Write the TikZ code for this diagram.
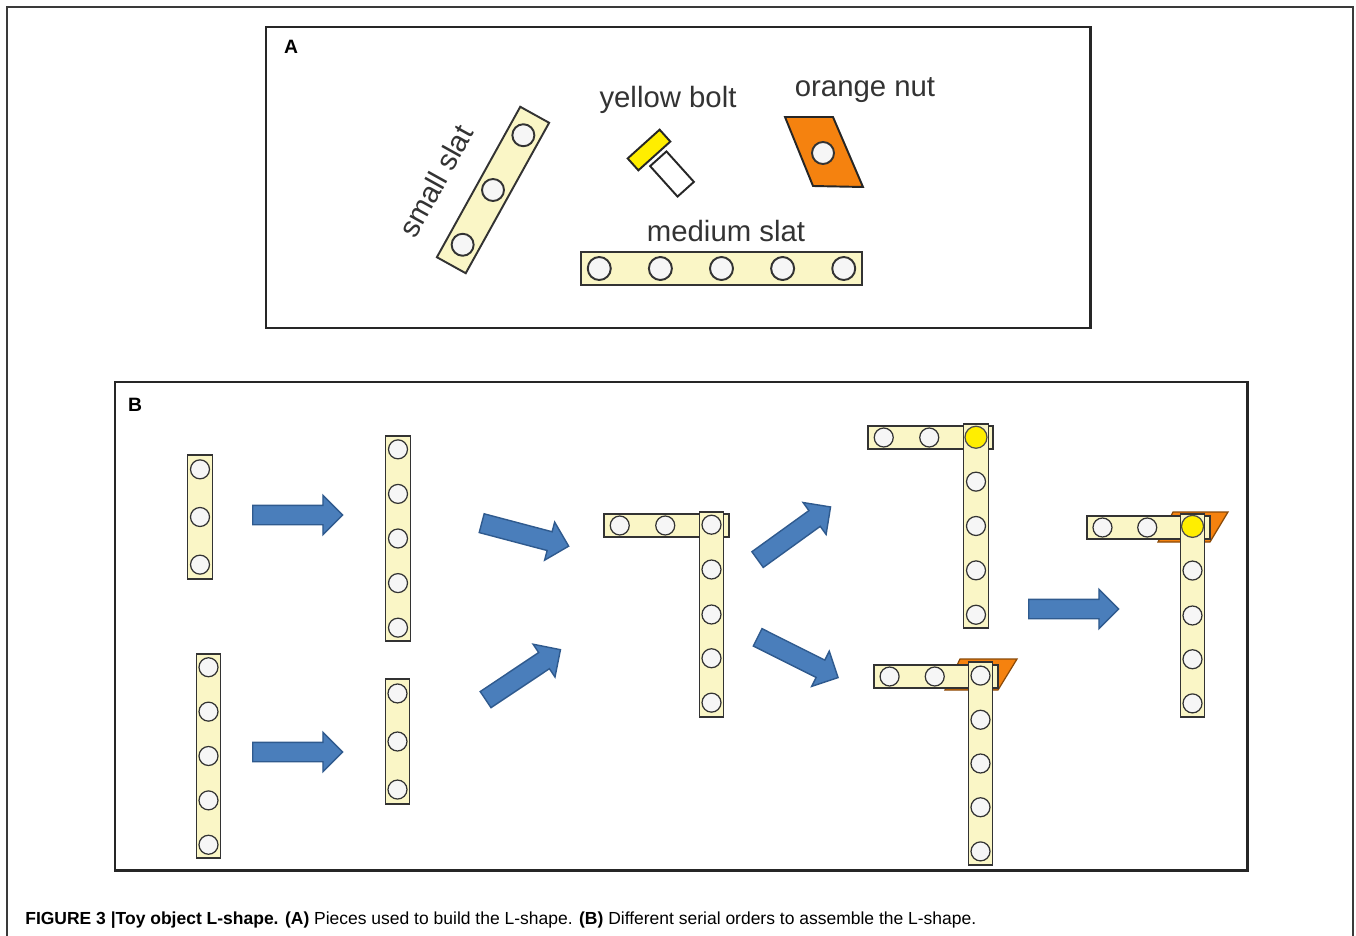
\documentclass[tikz,border=0pt]{standalone}
\usepackage{fontspec}
\setmainfont{Liberation Sans}
\usetikzlibrary{shapes.arrows, calc}
\definecolor{slatfill}{HTML}{FAF6C6}
\definecolor{holefill}{HTML}{F6F6F6}
\definecolor{boltyellow}{HTML}{FFEE00}
\definecolor{nutorange}{HTML}{F5820F}
\definecolor{nutedge}{HTML}{8A4A08}
\definecolor{arrowblue}{HTML}{4A7EBB}
\definecolor{arrowedge}{HTML}{2F5A8E}
\definecolor{framegray}{HTML}{3A3A3A}

\begin{document}
\begin{tikzpicture}[x=0.02cm, y=-0.02cm,
    panel/.style={draw=black!85, line width=1.7pt},
    plabel/.style={font=\fontsize{11}{13}\selectfont\bfseries},
    piece/.style={font=\fontsize{16.7}{20}\selectfont, text=black!80},
    slat/.style={draw=black!80, fill=slatfill, line width=0.8pt, inner sep=0pt},
    bigslat/.style={slat, line width=1.1pt, minimum width=#1*0.02cm, minimum height=0.66cm},
    vslat/.style={slat, minimum width=0.49cm, minimum height=#1*0.02cm},
    hslat/.style={slat, minimum height=0.46cm, minimum width=#1*0.02cm},
    hole/.style={draw=black!80, fill=holefill, line width=0.7pt},
    bighole/.style={hole, line width=1.1pt},
    bolt/.style={draw=black!70, fill=boltyellow, line width=0.7pt},
    nut/.style={draw=nutedge, fill=nutorange, line width=0.7pt},
    blockarrow/.style={single arrow, draw=arrowedge, fill=arrowblue, line width=0.8pt, anchor=tail,
                       inner sep=0.18cm, minimum height=1.8cm, single arrow head extend=0.2cm},
]
    \useasboundingbox (0,0) rectangle (1356,936);
    \draw[framegray, line width=1.1pt] (7,936) -- (7,7) -- (1353,7) -- (1353,936);

    % === panel A: the pieces ===
    \draw[panel] (266,27) rectangle (1090,328);
    \node[plabel] (labA) at (291,47) {A};

    \node[bigslat=172, rotate=61] (smallA) at (493,190) {};
    \foreach \t in {0.14,0.5,0.86}
        \draw[bighole] ($(smallA.west)!\t!(smallA.east)$) circle (0.22cm);
    \node[piece, rotate=61] (smallTxt) at (436,181) {small slat};

    \node[draw=black!85, fill=white, line width=1.1pt, inner sep=0pt,
          minimum width=0.82cm, minimum height=0.44cm, rotate=-48] (shaftA) at (672,174) {};
    \node[draw=black!85, fill=boltyellow, line width=1.1pt, inner sep=0pt,
          minimum width=0.86cm, minimum height=0.32cm, rotate=42] (headA) at (649,150) {};
    \node[piece] (boltTxt) at (668,100) {yellow bolt};

    \draw[nut, draw=black!85, line width=1.1pt] (785,117) -- (833,117) -- (863,187) -- (813,186) -- cycle;
    \draw[bighole] (823,153) circle (0.22cm);
    \node[piece] (nutTxt) at (865,90) {orange nut};

    \node[bigslat=281] (mediumA) at (721.5,268.5) {};
    \foreach \t in {0.068,0.284,0.5,0.716,0.932}
        \draw[bighole] ($(mediumA.west)!\t!(mediumA.east)$) circle (0.23cm);
    \node[piece] (mediumTxt) at (726,231) {medium slat};

    % === panel B: assembly orders ===
    \draw[panel] (115,382) rectangle (1247,870);
    \node[plabel] (labB) at (135,405) {B};

    % loose slats
    \node[vslat=124] (s1) at (200,517) {};
    \foreach \t in {0.12,0.5,0.88}
        \draw[hole] ($(s1.north)!\t!(s1.south)$) circle (0.19cm);
    \node[vslat=204] (m1) at (208.5,756) {};
    \foreach \t in {0.068,0.284,0.5,0.716,0.932}
        \draw[hole] ($(m1.north)!\t!(m1.south)$) circle (0.19cm);
    \node[vslat=205] (m2) at (398,538.5) {};
    \foreach \t in {0.068,0.284,0.5,0.716,0.932}
        \draw[hole] ($(m2.north)!\t!(m2.south)$) circle (0.19cm);
    \node[vslat=125] (s2) at (397.5,741.5) {};
    \foreach \t in {0.12,0.5,0.88}
        \draw[hole] ($(s2.north)!\t!(s2.south)$) circle (0.19cm);

    % L-shape, no fastener
    \node[hslat=125] (h3) at (666.5,525.5) {};
    \foreach \t in {0.13,0.49,0.86}
        \draw[hole] ($(h3.west)!\t!(h3.east)$) circle (0.19cm);
    \node[vslat=205] (v3) at (711.5,614.5) {};
    \foreach \t in {0.065,0.282,0.5,0.712,0.927}
        \draw[hole] ($(v3.north)!\t!(v3.south)$) circle (0.19cm);

    % L-shape with bolt
    \node[hslat=125] (h4) at (930.5,437.5) {};
    \foreach \t in {0.13,0.49,0.86}
        \draw[hole] ($(h4.west)!\t!(h4.east)$) circle (0.19cm);
    \node[vslat=204] (v4) at (976,526) {};
    \foreach \t in {0.068,0.284,0.5,0.716,0.932}
        \draw[hole] ($(v4.north)!\t!(v4.south)$) circle (0.19cm);
    \draw[bolt] ($(v4.north)!0.068!(v4.south)$) circle (0.22cm);

    % L-shape with nut
    \draw[nut] (960,659) -- (1017,659) -- (998,690) -- (945,690) -- cycle;
    \node[hslat=124] (h5) at (936,676.5) {};
    \foreach \t in {0.13,0.49,0.86}
        \draw[hole] ($(h5.west)!\t!(h5.east)$) circle (0.19cm);
    \node[vslat=203] (v5) at (980.5,763.5) {};
    \foreach \t in {0.07,0.286,0.5,0.714,0.93}
        \draw[hole] ($(v5.north)!\t!(v5.south)$) circle (0.19cm);

    % finished L-shape
    \draw[nut] (1173,512) -- (1228,512) -- (1210,542) -- (1158,542) -- cycle;
    \node[hslat=123] (h6) at (1148.5,527.5) {};
    \foreach \t in {0.13,0.49,0.86}
        \draw[hole] ($(h6.west)!\t!(h6.east)$) circle (0.19cm);
    \node[vslat=203] (v6) at (1192.5,615.5) {};
    \foreach \t in {0.064,0.28,0.5,0.714,0.93}
        \draw[hole] ($(v6.north)!\t!(v6.south)$) circle (0.19cm);
    \draw[bolt] ($(v6.north)!0.064!(v6.south)$) circle (0.22cm);

    % arrows, placed by their tails
    \node[blockarrow] (a1) at (252,515) {};
    \node[blockarrow] (a2) at (252,752) {};
    \node[blockarrow, rotate=-14.8] (a3) at (481,523) {};
    \node[blockarrow, rotate=33.7] (a4) at (485,700) {};
    \node[blockarrow, rotate=35.8] (a5) at (757,560) {};
    \node[blockarrow, rotate=-26.6] (a6) at (757,637) {};
    \node[blockarrow] (a7) at (1028,609) {};

    % === caption ===
    \node[anchor=west, font=\fontsize{9.95}{12}\selectfont, inner sep=0pt] (cap) at (25,920)
        {\textbf{FIGURE 3 |Toy object L-shape. (A)} Pieces used to build the L-shape. \textbf{(B)} Different serial orders to assemble the L-shape.};
\end{tikzpicture}
\end{document}
